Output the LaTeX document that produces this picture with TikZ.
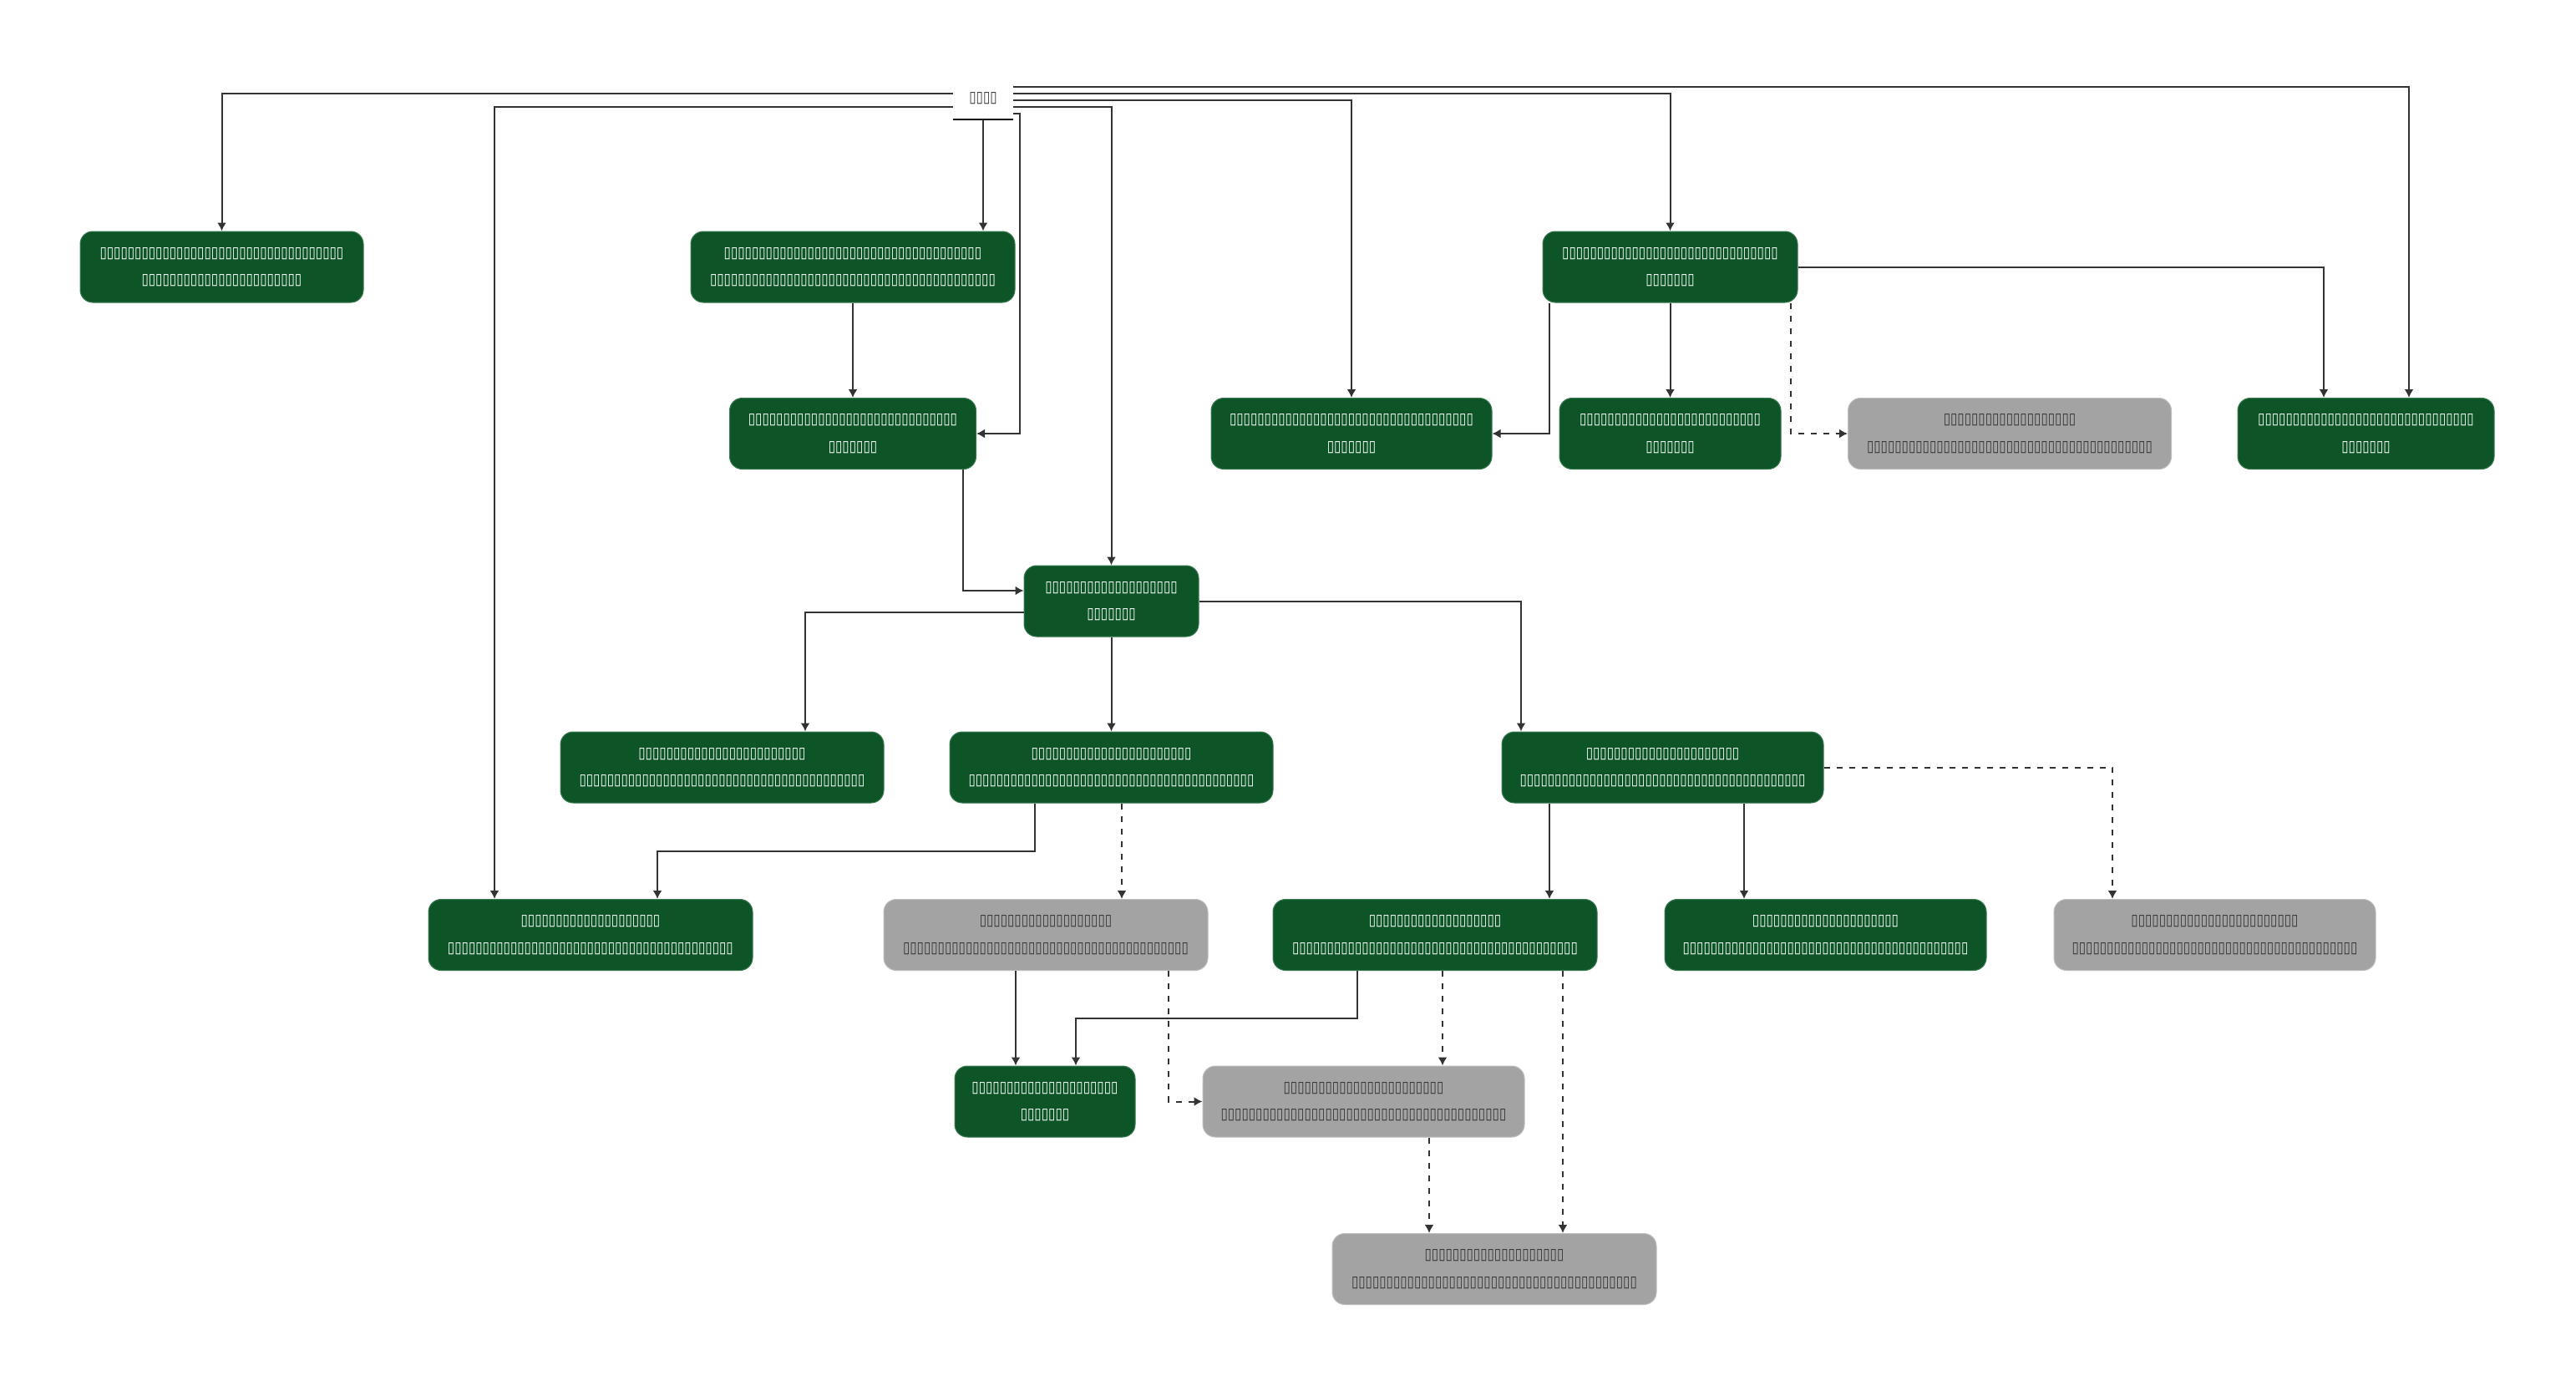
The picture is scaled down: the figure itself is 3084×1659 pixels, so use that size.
\documentclass[tikz,border=0pt]{standalone}
\usepackage{fontspec}
\usetikzlibrary{arrows.meta}
\newfontfamily\tofufont[FakeStretch=0.815]{DejaVu Sans}
\definecolor{dkgreen}{HTML}{0D5527}
\definecolor{dkgreenb}{HTML}{3C7A52}
\definecolor{midgray}{HTML}{A3A3A3}
\definecolor{midgrayb}{HTML}{BDBDBD}
\definecolor{txtgray}{HTML}{333333}
\definecolor{linegray}{HTML}{333333}
\tikzset{
  x=0.5pt, y=-0.5pt,
  box/.style={rounded corners=7.5pt, line width=0.5pt, minimum height=42.5pt, align=center, inner sep=0pt,
    font=\tofufont\fontsize{9.3}{16.3}\selectfont},
  gnode/.style={box, fill=dkgreen, draw=dkgreenb, text=white},
  ynode/.style={box, fill=midgray, draw=midgrayb, text=txtgray},
  conn/.style={-{Latex[length=5pt,width=5.5pt]}, line width=1pt, draw=linegray},
  dconn/.style={conn, dash pattern=on 3.5pt off 4pt},
}
\begin{document}
\begin{tikzpicture}
\useasboundingbox[fill=white] (0,0) rectangle (3084,1659);
% root
\node[inner sep=0pt, minimum width=36pt, minimum height=23.5pt, text=txtgray, font=\tofufont\fontsize{9.3}{16.3}\selectfont] (root) at (1177,117.5) {▯▯▯▯};
\draw[line width=1.2pt] (root.south west |- 0,143) -- (root.south east |- 0,143);
% row 1
\node[gnode, minimum width=169.5pt] (A) at (265.5,319.5) {▯▯▯▯▯▯▯▯▯▯▯▯▯▯▯▯▯▯▯▯▯▯▯▯▯▯▯▯▯▯▯▯▯▯▯\\▯▯▯▯▯▯▯▯▯▯▯▯▯▯▯▯▯▯▯▯▯▯▯};
\node[gnode, minimum width=194pt] (B) at (1021,319.5) {▯▯▯▯▯▯▯▯▯▯▯▯▯▯▯▯▯▯▯▯▯▯▯▯▯▯▯▯▯▯▯▯▯▯▯▯▯\\▯▯▯▯▯▯▯▯▯▯▯▯▯▯▯▯▯▯▯▯▯▯▯▯▯▯▯▯▯▯▯▯▯▯▯▯▯▯▯▯▯};
\node[gnode, minimum width=152.5pt] (C) at (1999.5,319.5) {▯▯▯▯▯▯▯▯▯▯▯▯▯▯▯▯▯▯▯▯▯▯▯▯▯▯▯▯▯▯▯\\▯▯▯▯▯▯▯};
% row 2
\node[gnode, minimum width=147.5pt] (D) at (1021,519) {▯▯▯▯▯▯▯▯▯▯▯▯▯▯▯▯▯▯▯▯▯▯▯▯▯▯▯▯▯▯\\▯▯▯▯▯▯▯};
\node[gnode, minimum width=168pt] (E) at (1618,519) {▯▯▯▯▯▯▯▯▯▯▯▯▯▯▯▯▯▯▯▯▯▯▯▯▯▯▯▯▯▯▯▯▯▯▯\\▯▯▯▯▯▯▯};
\node[gnode, minimum width=132.5pt] (F) at (1999.5,519) {▯▯▯▯▯▯▯▯▯▯▯▯▯▯▯▯▯▯▯▯▯▯▯▯▯▯\\▯▯▯▯▯▯▯};
\node[ynode, minimum width=193.5pt] (G) at (2406,519) {▯▯▯▯▯▯▯▯▯▯▯▯▯▯▯▯▯▯▯\\▯▯▯▯▯▯▯▯▯▯▯▯▯▯▯▯▯▯▯▯▯▯▯▯▯▯▯▯▯▯▯▯▯▯▯▯▯▯▯▯▯};
\node[gnode, minimum width=153.5pt] (H) at (2832.5,519) {▯▯▯▯▯▯▯▯▯▯▯▯▯▯▯▯▯▯▯▯▯▯▯▯▯▯▯▯▯▯▯\\▯▯▯▯▯▯▯};
% row 3
\node[gnode, minimum width=104.5pt] (I) at (1330.5,719.5) {▯▯▯▯▯▯▯▯▯▯▯▯▯▯▯▯▯▯▯\\▯▯▯▯▯▯▯};
% row 4
\node[gnode, minimum width=193.5pt] (J) at (864.5,918.5) {▯▯▯▯▯▯▯▯▯▯▯▯▯▯▯▯▯▯▯▯▯▯▯▯\\▯▯▯▯▯▯▯▯▯▯▯▯▯▯▯▯▯▯▯▯▯▯▯▯▯▯▯▯▯▯▯▯▯▯▯▯▯▯▯▯▯};
\node[gnode, minimum width=193.5pt] (K) at (1330.5,918.5) {▯▯▯▯▯▯▯▯▯▯▯▯▯▯▯▯▯▯▯▯▯▯▯\\▯▯▯▯▯▯▯▯▯▯▯▯▯▯▯▯▯▯▯▯▯▯▯▯▯▯▯▯▯▯▯▯▯▯▯▯▯▯▯▯▯};
\node[gnode, minimum width=192.5pt] (L) at (1990.5,918.5) {▯▯▯▯▯▯▯▯▯▯▯▯▯▯▯▯▯▯▯▯▯▯\\▯▯▯▯▯▯▯▯▯▯▯▯▯▯▯▯▯▯▯▯▯▯▯▯▯▯▯▯▯▯▯▯▯▯▯▯▯▯▯▯▯};
% row 5
\node[gnode, minimum width=194pt] (M) at (707,1119) {▯▯▯▯▯▯▯▯▯▯▯▯▯▯▯▯▯▯▯▯\\▯▯▯▯▯▯▯▯▯▯▯▯▯▯▯▯▯▯▯▯▯▯▯▯▯▯▯▯▯▯▯▯▯▯▯▯▯▯▯▯▯};
\node[ynode, minimum width=194pt] (N) at (1252,1119) {▯▯▯▯▯▯▯▯▯▯▯▯▯▯▯▯▯▯▯\\▯▯▯▯▯▯▯▯▯▯▯▯▯▯▯▯▯▯▯▯▯▯▯▯▯▯▯▯▯▯▯▯▯▯▯▯▯▯▯▯▯};
\node[gnode, minimum width=194pt] (O) at (1718,1119) {▯▯▯▯▯▯▯▯▯▯▯▯▯▯▯▯▯▯▯\\▯▯▯▯▯▯▯▯▯▯▯▯▯▯▯▯▯▯▯▯▯▯▯▯▯▯▯▯▯▯▯▯▯▯▯▯▯▯▯▯▯};
\node[gnode, minimum width=192.5pt] (P) at (2185.5,1119) {▯▯▯▯▯▯▯▯▯▯▯▯▯▯▯▯▯▯▯▯▯\\▯▯▯▯▯▯▯▯▯▯▯▯▯▯▯▯▯▯▯▯▯▯▯▯▯▯▯▯▯▯▯▯▯▯▯▯▯▯▯▯▯};
\node[ynode, minimum width=192.5pt] (Q) at (2651.5,1119) {▯▯▯▯▯▯▯▯▯▯▯▯▯▯▯▯▯▯▯▯▯▯▯▯\\▯▯▯▯▯▯▯▯▯▯▯▯▯▯▯▯▯▯▯▯▯▯▯▯▯▯▯▯▯▯▯▯▯▯▯▯▯▯▯▯▯};
% row 6
\node[gnode, minimum width=108pt] (R) at (1251,1318.5) {▯▯▯▯▯▯▯▯▯▯▯▯▯▯▯▯▯▯▯▯▯\\▯▯▯▯▯▯▯};
\node[ynode, minimum width=192.5pt] (S) at (1632.5,1318.5) {▯▯▯▯▯▯▯▯▯▯▯▯▯▯▯▯▯▯▯▯▯▯▯\\▯▯▯▯▯▯▯▯▯▯▯▯▯▯▯▯▯▯▯▯▯▯▯▯▯▯▯▯▯▯▯▯▯▯▯▯▯▯▯▯▯};
% row 7
\node[ynode, minimum width=194pt] (T) at (1789,1519) {▯▯▯▯▯▯▯▯▯▯▯▯▯▯▯▯▯▯▯▯\\▯▯▯▯▯▯▯▯▯▯▯▯▯▯▯▯▯▯▯▯▯▯▯▯▯▯▯▯▯▯▯▯▯▯▯▯▯▯▯▯▯};
% connectors from root
\draw[conn] (root.west |- 0,112) -| (A.north);
\draw[conn] (root.west |- 0,128) -| (592,0 |- M.north);
\draw[conn] (root.south |- 0,143) -- (root.south |- B.north);
\draw[conn] (root.east |- 0,136) -| (1221,519) -- (D.east);
\draw[conn] (root.east |- 0,128) -| (I.north);
\draw[conn] (root.east |- 0,120) -| (E.north);
\draw[conn] (root.east |- 0,112) -| (C.north);
\draw[conn] (root.east |- 0,104) -| (2884,0 |- H.north);
% others
\draw[conn] (B.south) -- (D.north);
\draw[conn] (1855,0 |- C.south) |- (E.east);
\draw[conn] (C.south) -- (F.north);
\draw[dconn] (2144,0 |- C.south) |- (G.west);
\draw[conn] (C.east) -| (2782,0 |- H.north);
\draw[conn] (1153,0 |- D.south) |- (I.west |- 0,707);
\draw[conn] (I.west |- 0,733) -| (964,0 |- J.north);
\draw[conn] (I.south) -- (K.north);
\draw[conn] (I.east) -| (1821,0 |- L.north);
\draw[conn] (1239,0 |- K.south) -- (1239,1019) -| (787,0 |- M.north);
\draw[dconn] (1343,0 |- K.south) -- (1343,0 |- N.north);
\draw[conn] (1855,0 |- L.south) -- (1855,0 |- O.north);
\draw[conn] (2088,0 |- L.south) -- (2088,0 |- P.north);
\draw[dconn] (L.east) -| (2529,0 |- Q.north);
\draw[conn] (1216,0 |- N.south) -- (1216,0 |- R.north);
\draw[dconn] (1399,0 |- N.south) |- (S.west);
\draw[conn] (1625,0 |- O.south) -- (1625,1219) -| (1288,0 |- R.north);
\draw[dconn] (1727,0 |- O.south) -- (1727,0 |- S.north);
\draw[dconn] (1871,0 |- O.south) -- (1871,0 |- T.north);
\draw[dconn] (1711,0 |- S.south) -- (1711,0 |- T.north);
\end{tikzpicture}
\end{document}
